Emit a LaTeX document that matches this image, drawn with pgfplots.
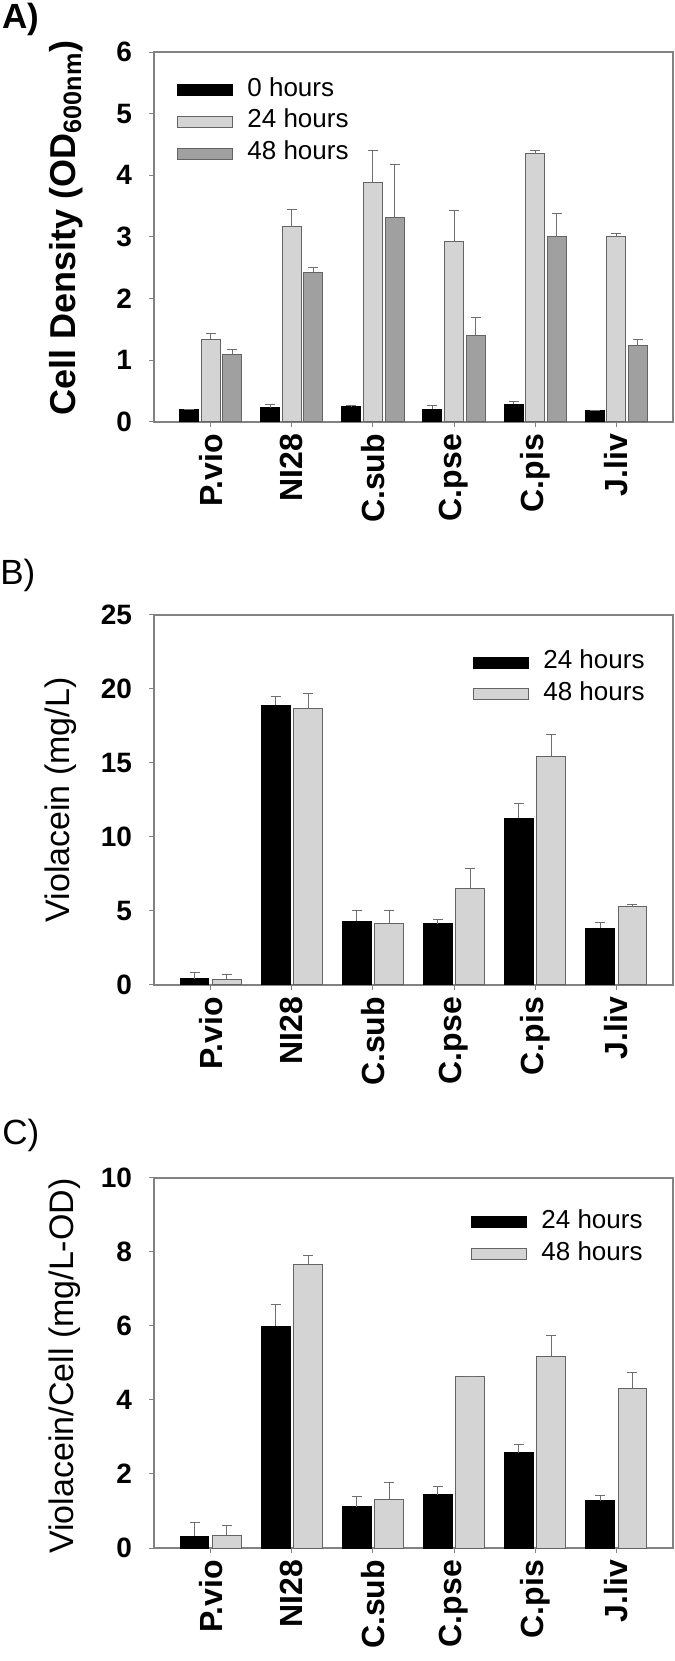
\documentclass[border=0pt]{standalone}
\usepackage{fontspec}
\setmainfont{Liberation Sans}
\usepackage{pgfplots}
\usepackage{pgfplotstable}
\pgfplotsset{compat=1.18}

\definecolor{barlight}{RGB}{212,212,212}
\definecolor{bardark}{RGB}{160,160,160}
\definecolor{baredge}{RGB}{100,100,100}
\definecolor{errcol}{RGB}{110,110,110}
\definecolor{axcol}{RGB}{130,130,130}

% Panel A: cell density (OD600)
\pgfplotstableread{
x  y0   e0   y24  e24  y48  e48
0  0.20 0.01 1.34 0.10 1.09 0.09
1  0.23 0.05 3.17 0.28 2.43 0.07
2  0.25 0.01 3.88 0.52 3.31 0.87
3  0.21 0.05 2.92 0.51 1.41 0.29
4  0.29 0.04 4.35 0.06 3.00 0.38
5  0.18 0.00 3.00 0.06 1.24 0.09
}\tabA
% Panel B: violacein (mg/L)
\pgfplotstableread{
x  y24   e24  y48   e48
0  0.41  0.44 0.39  0.29
1  18.90 0.60 18.65 1.05
2  4.30  0.70 4.18  0.82
3  4.15  0.27 6.52  1.35
4  11.28 0.99 15.46 1.45
5  3.84  0.39 5.31  0.15
}\tabB
% Panel C: violacein per cell (mg/L-OD)
\pgfplotstableread{
x  y24  e24  y48  e48
0  0.32 0.37 0.34 0.26
1  5.99 0.58 7.66 0.24
2  1.11 0.29 1.32 0.45
3  1.44 0.22 4.63 0.01
4  2.58 0.21 5.18 0.55
5  1.28 0.15 4.32 0.43
}\tabC

\pgfplotsset{
  panel/.style={
    scale only axis,
    width=259.5pt, height=185pt,
    xmin=-0.7, xmax=5.7, ymin=0,
    xtick={0,1,2,3,4,5},
    xticklabels={P.vio,NI28,C.sub,C.pse,C.pis,J.liv},
    tick pos=left,
    tick align=outside,
    major tick length=2.3pt,
    tick style={axcol, line width=0.5pt},
    axis line style={axcol, line width=0.6pt},
    /pgf/number format/assume math mode=true,
    yticklabel style={font=\bfseries\fontsize{14}{16}\selectfont, anchor=east, inner sep=0pt},
    yticklabel shift=8.5pt,
    xticklabel style={font=\bfseries\fontsize{16}{18}\selectfont, rotate=90, anchor=east, inner sep=0pt},
    xticklabel shift=3.5pt,
    legend cell align=left,
    legend style={draw=none, fill=none, anchor=north west, inner sep=0pt,
      font=\fontsize{13}{15}\selectfont, row sep=3.8pt, column sep=7pt,
      nodes={inner sep=0pt, text height=9pt, text depth=3pt}},
    clip=false,
  },
  boxlegend/.style={
    legend image code/.code={\draw[##1, /pgfplots/ybar=0pt, bar shift=0pt] plot coordinates {(0pt,0pt)};\draw[##1] (0pt,-2.75pt) rectangle (27.5pt,2.75pt);},
  },
  errb/.style={
    error bars/.cd, y dir=plus, y explicit,
    error bar style={errcol, line width=0.5pt},
    error mark options={errcol, rotate=90, mark size=2.5pt, line width=0.5pt},
  },
}

\begin{document}
\begin{tikzpicture}
\path[use as bounding box] (0,0) rectangle (337.5pt,830.5pt);

% ---------- Panel A ----------
\node[anchor=north west, inner sep=0pt, font=\bfseries\fontsize{17.5}{20}\selectfont] at (1pt,829pt) {A)};
\begin{axis}[panel, at={(77pt,619.5pt)}, anchor=south west,
  ybar=1.3pt, bar width=9.5pt,
  legend image code/.code={\draw[#1] (0pt,-2.75pt) rectangle (27.5pt,2.75pt);},
  ymax=6, ytick={0,1,2,3,4,5,6},
  ylabel={\bfseries Cell Density (OD\textsubscript{600nm})},
  every axis y label/.style={at={(rel axis cs:0,0.5)}, xshift=-44pt, yshift=4.5pt, rotate=90, anchor=center, font=\fontsize{18}{20}\selectfont},
  legend style={at={(0.0443,0.93)}},
]
\addplot[fill=black, draw=black, line width=0.5pt, errb] table[x=x, y=y0, y error=e0] {\tabA};
\addlegendentry{0 hours}
\addplot[fill=barlight, draw=baredge, line width=0.5pt, errb] table[x=x, y=y24, y error=e24] {\tabA};
\addlegendentry{24 hours}
\addplot[fill=bardark, draw=baredge, line width=0.5pt, errb] table[x=x, y=y48, y error=e48] {\tabA};
\addlegendentry{48 hours}
\end{axis}

% ---------- Panel B ----------
\node[anchor=north west, inner sep=0pt, font=\fontsize{17.5}{20}\selectfont] at (0pt,551pt) {B)};
\begin{axis}[panel, at={(77pt,338pt)}, anchor=south west,
  ybar=1.8pt, bar width=14.4pt,
  legend image code/.code={\draw[#1] (0pt,-2.75pt) rectangle (27.5pt,2.75pt);},
  ymax=25, ytick={0,5,10,15,20,25},
  ylabel={Violacein (mg/L)},
  every axis y label/.style={at={(rel axis cs:0,0.5)}, xshift=-46.5pt, rotate=90, anchor=center, font=\fontsize{17}{19}\selectfont},
  legend style={at={(0.6146,0.905)}},
]
\addplot[fill=black, draw=black, line width=0.5pt, errb] table[x=x, y=y24, y error=e24] {\tabB};
\addlegendentry{24 hours}
\addplot[fill=barlight, draw=baredge, line width=0.5pt, errb] table[x=x, y=y48, y error=e48] {\tabB};
\addlegendentry{48 hours}
\end{axis}

% ---------- Panel C ----------
\node[anchor=north west, inner sep=0pt, font=\fontsize{17.5}{20}\selectfont] at (1pt,271pt) {C)};
\begin{axis}[panel, at={(77pt,56.5pt)}, anchor=south west,
  ybar=1.8pt, bar width=14.4pt,
  legend image code/.code={\draw[#1] (0pt,-2.75pt) rectangle (27.5pt,2.75pt);},
  ymax=10, ytick={0,2,4,6,8,10},
  ylabel={Violacein/Cell (mg/L-OD)},
  every axis y label/.style={at={(rel axis cs:0,0.5)}, xshift=-44.5pt, yshift=-1.5pt, rotate=90, anchor=center, font=\fontsize{17}{19}\selectfont},
  legend style={at={(0.6108,0.9135)}},
]
\addplot[fill=black, draw=black, line width=0.5pt, errb] table[x=x, y=y24, y error=e24] {\tabC};
\addlegendentry{24 hours}
\addplot[fill=barlight, draw=baredge, line width=0.5pt, errb] table[x=x, y=y48, y error=e48] {\tabC};
\addlegendentry{48 hours}
\end{axis}
\end{tikzpicture}
\end{document}
